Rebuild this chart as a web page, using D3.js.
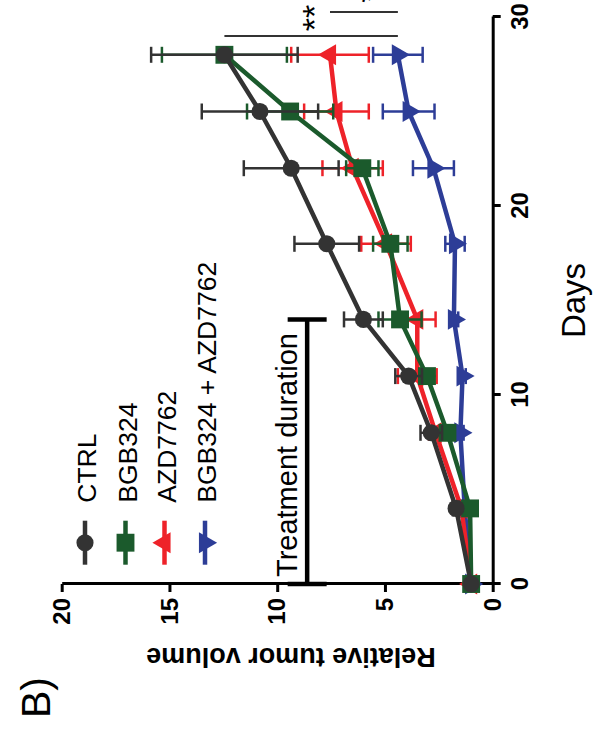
<!DOCTYPE html>
<html>
<head>
<meta charset="utf-8">
<script src="https://cdn.jsdelivr.net/npm/d3@7"></script>
<style>
body { margin: 0; background: #fff; }
svg { display: block; font-family: "Liberation Sans", Arial, Helvetica, sans-serif; }
</style>
</head>
<body>
<div class="mainviz"></div>
<script>
var days = [0, 4, 8, 11, 14, 18, 22, 25, 28];
var dayTicks = [0, 10, 20, 30];
var volTicks = [0, 5, 10, 15, 20];

var ctrl = [1, 1.7, 2.85, 3.9, 6.0, 7.7, 9.35, 10.8, 12.45];
var ctrlErr = [0, 0.15, 0.5, 0.62, 0.9, 1.5, 2.2, 2.7, 3.4];
var bgb = [1, 1.05, 2.1, 3.05, 4.3, 4.75, 6.05, 9.4, 12.45];
var bgbErr = [0, 0.1, 0.2, 0.3, 1.0, 0.8, 0.75, 2.0, 2.9];
var azd = [1, 1.45, 2.65, 3.5, 3.5, 4.95, 6.5, 7.25, 7.55];
var azdErr = [0, 0.15, 0.3, 0.9, 0.85, 1.15, 1.4, 1.5, 1.8];
var combo = [1, 1.3, 1.5, 1.4, 1.8, 1.75, 2.75, 3.9, 4.4];
var comboErr = [0, 0.1, 0.15, 0.15, 0.2, 0.45, 0.95, 1.2, 1.15];

var names = ["CTRL", "BGB324", "AZD7762", "BGB324 + AZD7762"];
var colors = ["#333333", "#1b5a2c", "#ee2229", "#2d3d97"];
var shapes = ["circle", "square", "up", "down"];

var series = [
	{ name: names[0], vals: ctrl, err: ctrlErr, color: colors[0], shape: shapes[0] },
	{ name: names[1], vals: bgb, err: bgbErr, color: colors[1], shape: shapes[1] },
	{ name: names[2], vals: azd, err: azdErr, color: colors[2], shape: shapes[2] },
	{ name: names[3], vals: combo, err: comboErr, color: colors[3], shape: shapes[3] }
];

var width = 598, height = 731;

var svg = d3.select(".mainviz").append("svg")
	.attr("width", width)
	.attr("height", height);

// the whole figure is turned a quarter counter-clockwise
var chartGroup = svg.append("g")
	.attr("transform", "translate(0," + height + ") rotate(-90)");

var x = d3.scaleLinear().domain([0, 30]).range([147, 714]);
var y = d3.scaleLinear().domain([0, 20]).range([492.7, 61.7]);

function markerPath(shape) {
	if (shape == "circle") return d3.symbol().type(d3.symbolCircle).size(230)();
	if (shape == "square") return d3.symbol().type(d3.symbolSquare).size(320)();
	return d3.symbol().type(d3.symbolTriangle).size(190)();
}

var line = d3.line()
	.x(function(d){ return x(d.day); })
	.y(function(d){ return y(d.v); });

// axes
var xAxis = d3.axisBottom(x).tickValues(dayTicks).tickSize(8).tickSizeOuter(0).tickPadding(10);
var yAxis = d3.axisLeft(y).tickValues(volTicks).tickSize(8).tickSizeOuter(0).tickPadding(6);

var gx = chartGroup.append("g")
	.attr("class", "axis x")
	.attr("transform", "translate(0," + y(0) + ")")
	.call(xAxis);
var gy = chartGroup.append("g")
	.attr("class", "axis y")
	.attr("transform", "translate(" + x(0) + ",0)")
	.call(yAxis);

chartGroup.selectAll(".axis path, .axis line")
	.attr("stroke", "#000")
	.attr("stroke-width", 3);
chartGroup.selectAll(".axis text")
	.attr("fill", "#000")
	.attr("font-size", 24)
	.attr("font-weight", "bold")
	.attr("font-family", "'Liberation Sans', Arial, sans-serif");

chartGroup.append("text")
	.attr("x", x(15))
	.attr("y", 585)
	.attr("text-anchor", "middle")
	.attr("font-size", 33)
	.text("Days");

chartGroup.append("text")
	.attr("transform", "translate(83,291) rotate(-90)")
	.attr("text-anchor", "middle")
	.attr("font-size", 27)
	.attr("font-weight", "bold")
	.text("Relative tumor volume");

chartGroup.append("text")
	.attr("x", 13)
	.attr("y", 50)
	.attr("font-size", 41)
	.text("B)");

// treatment duration bar
var treatY = y(8.61);
chartGroup.append("line")
	.attr("x1", x(0)).attr("x2", x(14))
	.attr("y1", treatY).attr("y2", treatY)
	.attr("stroke", "#000").attr("stroke-width", 4.5);
[0, 14].forEach(function(d){
	chartGroup.append("line")
		.attr("x1", x(d)).attr("x2", x(d))
		.attr("y1", treatY - 19.5).attr("y2", treatY + 19.5)
		.attr("stroke", "#000").attr("stroke-width", 4.5);
});
chartGroup.append("text")
	.attr("x", x(0) + 7)
	.attr("y", y(9.1))
	.attr("font-size", 29)
	.text("Treatment duration");

// series, last group drawn first so CTRL sits on top
series.slice().reverse().forEach(function(s){
	var pts = days.map(function(d, i){ return { day: d, v: s.vals[i], e: s.err[i] }; });
	var g = chartGroup.append("g");

	g.append("path")
		.attr("d", line(pts))
		.attr("fill", "none")
		.attr("stroke", s.color)
		.attr("stroke-width", 4.5)
		.attr("stroke-linejoin", "round");

	var eb = g.selectAll("g.err")
		.data(pts.filter(function(p){ return p.e > 0; }))
		.enter().append("g")
		.attr("class", "err");
	eb.append("line")
		.attr("x1", function(p){ return x(p.day); })
		.attr("x2", function(p){ return x(p.day); })
		.attr("y1", function(p){ return y(p.v - p.e); })
		.attr("y2", function(p){ return y(p.v + p.e); })
		.attr("stroke", s.color).attr("stroke-width", 2.5);
	[-1, 1].forEach(function(sign){
		eb.append("line")
			.attr("x1", function(p){ return x(p.day) - 8; })
			.attr("x2", function(p){ return x(p.day) + 8; })
			.attr("y1", function(p){ return y(p.v + sign * p.e); })
			.attr("y2", function(p){ return y(p.v + sign * p.e); })
			.attr("stroke", s.color).attr("stroke-width", 2.5);
	});

	g.selectAll("path.mk")
		.data(pts)
		.enter().append("path")
		.attr("class", "mk")
		.attr("d", markerPath(s.shape))
		.attr("fill", s.color)
		.attr("transform", function(p){
			return "translate(" + x(p.day) + "," + y(p.v) + ")" + (s.shape == "down" ? " rotate(180)" : "");
		});
});

// legend
var legY = [85, 125.5, 164.5, 205];
var legX = 188.3;
series.forEach(function(s, i){
	var lg = chartGroup.append("g").attr("transform", "translate(" + legX + "," + legY[i] + ")");
	lg.append("line")
		.attr("x1", -22).attr("x2", 22)
		.attr("stroke", s.color).attr("stroke-width", 4.5);
	lg.append("path")
		.attr("d", markerPath(s.shape))
		.attr("fill", s.color)
		.attr("transform", s.shape == "down" ? "rotate(180)" : null);
	lg.append("text")
		.attr("x", 40)
		.attr("y", 11)
		.attr("font-size", 26.5)
		.text(s.name);
});

// significance brackets
var sig1 = x(29.0), sig2 = x(30.26);
chartGroup.append("line")
	.attr("x1", sig1).attr("x2", sig1)
	.attr("y1", y(ctrl[8])).attr("y2", y(combo[8]))
	.attr("stroke", "#333").attr("stroke-width", 2);
chartGroup.append("line")
	.attr("x1", sig2).attr("x2", sig2)
	.attr("y1", y(azd[8])).attr("y2", y(combo[8]))
	.attr("stroke", "#333").attr("stroke-width", 2);
chartGroup.append("text")
	.attr("x", x(29.95))
	.attr("y", y(8.6) + 19)
	.attr("text-anchor", "middle")
	.attr("font-size", 34)
	.text("**");
chartGroup.append("text")
	.attr("x", x(31.1))
	.attr("y", y(6.0) + 19)
	.attr("text-anchor", "middle")
	.attr("font-size", 34)
	.text("*");
</script>
</body>
</html>
